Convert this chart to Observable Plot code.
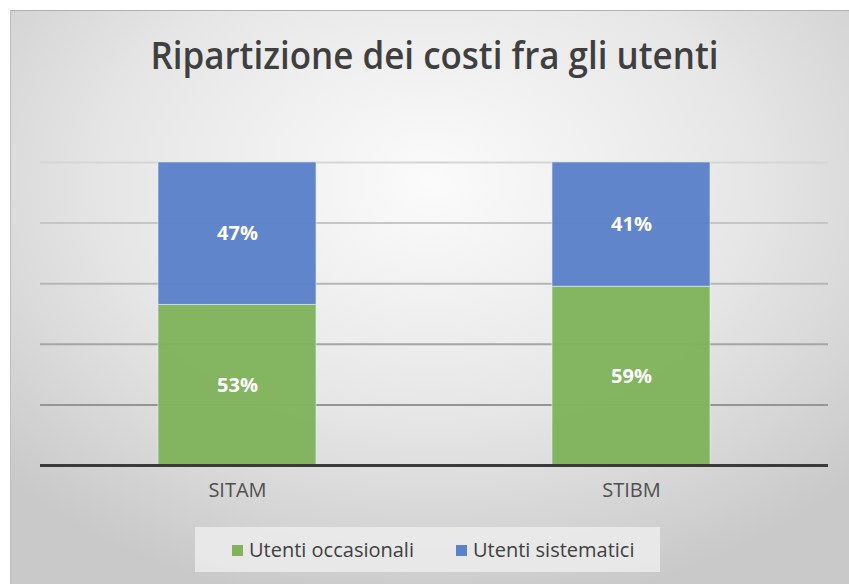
<!DOCTYPE html>
<html>
<head>
<meta charset="utf-8">
<script src="https://cdn.jsdelivr.net/npm/d3@7"></script>
<script src="https://cdn.jsdelivr.net/npm/@observablehq/plot@0.6"></script>
<style>
  html, body { margin: 0; padding: 0; background: #fff; }
  #wrap { position: relative; width: 849px; height: 584px; overflow: hidden; background: #fff; }
  #panel {
    position: absolute; left: 10px; top: 10px; width: 839px; height: 574px;
    background: radial-gradient(ellipse 70% 75% at 50% 30%, #fbfbfb 0%, #e6e6e6 55%, #c9c9c9 100%);
    border-top: 1px solid #b0b0b0; border-left: 1px solid #bdbdbd;
    box-sizing: border-box;
  }
  #title {
    position: absolute; left: 0; top: 28px; width: 869px; text-align: center;
    font-family: "Open Sans", sans-serif; font-weight: 600; font-size: 38px; color: #3f3f3f;
    transform: scaleX(0.92); transform-origin: 434px 0;
    white-space: nowrap;
  }
  #chart { position: absolute; left: 0; top: 140px; }
  #legend {
    position: absolute; left: 195px; top: 527px; width: 465px; height: 45px;
    background: rgba(236,236,236,0.85);
    display: flex; align-items: center; justify-content: flex-start; gap: 42px;
    padding-left: 37px; box-sizing: border-box;
    font-family: "Open Sans", sans-serif; font-size: 20px; color: #404040;
    white-space: nowrap;
  }
  #legend span.sw { display: inline-block; width: 11px; height: 11px; margin-right: 6px; vertical-align: 1px; }
</style>
</head>
<body>
<div id="wrap">
  <div id="panel"></div>
  <div id="title">Ripartizione dei costi fra gli utenti</div>
  <div id="chart"></div>
  <div id="legend"></div>
</div>
<script>
const categories = ["SITAM", "STIBM"];
const seriesNames = ["Utenti occasionali", "Utenti sistematici"];
const occasionali = [0.53, 0.59];
const sistematici = [0.47, 0.41];
const gridTicks = [0.2, 0.4, 0.6, 0.8, 1.0];
const colors = ["#80b35c", "#5b81c8"];

const data = [];
categories.forEach((c, i) => {
  data.push({cat: c, series: seriesNames[0], value: occasionali[i]});
  data.push({cat: c, series: seriesNames[1], value: sistematici[i]});
});

const gridColor = d3.interpolateRgb("#959595", "#d6d6d6");

const chart = Plot.plot({
  width: 849,
  height: 380,
  marginLeft: 40,
  marginRight: 21,
  marginTop: 22,
  marginBottom: 55,
  style: {background: "transparent", fontFamily: "Open Sans, sans-serif", overflow: "visible"},
  x: {domain: categories, paddingInner: 0.6, paddingOuter: 0.3, label: null},
  y: {domain: [0, 1], axis: null},
  color: {domain: seriesNames, range: colors},
  marks: [
    Plot.ruleY(gridTicks, {stroke: d => gridColor((d - 0.2) / 0.8), strokeWidth: 2}),
    Plot.barY(data, Plot.stackY({x: "cat", y: "value", fill: "series", order: seriesNames, stroke: "#e8eef8", strokeOpacity: 0.6, strokeWidth: 1, fillOpacity: 0.97})),
    Plot.text(data, Plot.stackY({x: "cat", y: "value", z: "series", order: seriesNames, text: d => Math.round(d.value * 100) + "%", fill: "white", fontSize: 20, fontWeight: "bold"})),
    Plot.ruleY([0], {stroke: "#3a3a3a", strokeWidth: 3}),
    Plot.axisX({tickSize: 0, tickPadding: 17, fontSize: 20, fill: "#505050", label: null})
  ]
});
document.getElementById("chart").appendChild(chart);

const legend = document.getElementById("legend");
seriesNames.forEach((s, i) => {
  const item = document.createElement("div");
  item.innerHTML = `<span class="sw" style="background:${colors[i]}"></span>${s}`;
  legend.appendChild(item);
});
</script>
</body>
</html>
